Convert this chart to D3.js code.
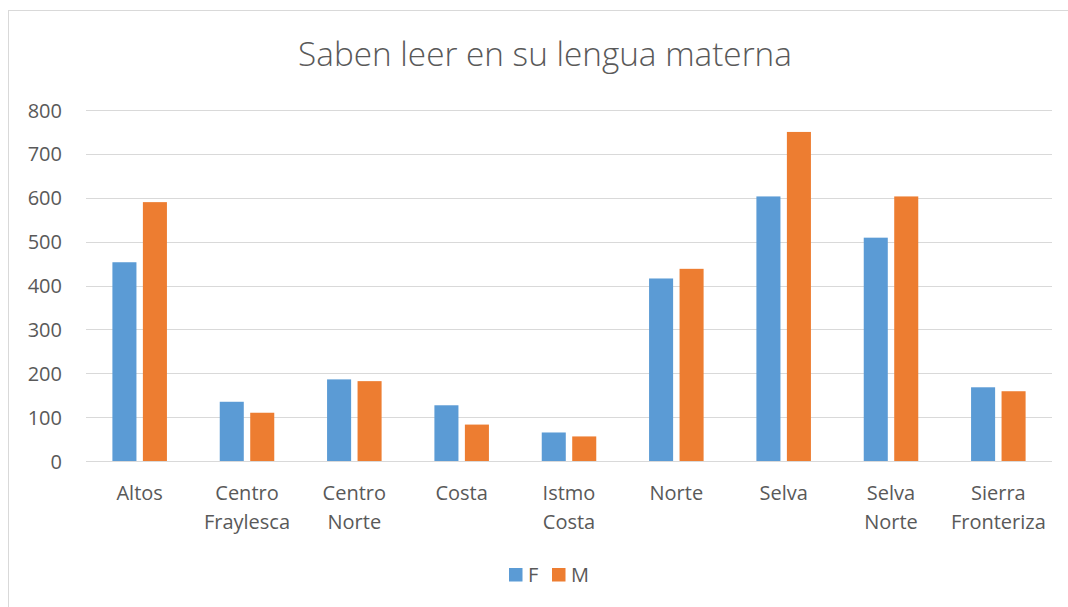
<!DOCTYPE html>
<html><head><meta charset="utf-8">
<script src="https://cdn.jsdelivr.net/npm/d3@7"></script>
<style>
html,body{margin:0;padding:0;background:#fff;}
svg{display:block;}
text{font-family:"Open Sans",sans-serif;fill:#595959;}
</style></head>
<body><svg id="c" width="1068" height="607"></svg>
<script>
const title = "Saben leer en su lengua materna";
const categories = [["Altos"],["Centro","Fraylesca"],["Centro","Norte"],["Costa"],["Istmo","Costa"],["Norte"],["Selva"],["Selva","Norte"],["Sierra","Fronteriza"]];
const seriesNames = ["F","M"];
const valuesF = [453,135,186,127,65,416,603,509,168];
const valuesM = [590,110,182,83,56,438,750,603,159];
const yTicks = [0,100,200,300,400,500,600,700,800];
const colors = ["#5B9BD5","#ED7D31"];

(function(){
const svg = d3.select("#c");
svg.append("rect").attr("x",8.5).attr("y",10.5).attr("width",1080).attr("height",620)
  .attr("fill","#fff").attr("stroke","#D9D9D9").attr("stroke-width",1);

const pL=86,pR=1052,pT=110,pB=461;
const x = d3.scaleBand().domain(categories.map((d,i)=>i)).range([pL,pR]).paddingInner(0).paddingOuter(0);
const y = d3.scaleLinear().domain([0,800]).range([pB,pT]);

svg.append("g").selectAll("line").data(yTicks).join("line")
  .attr("x1",pL).attr("x2",pR)
  .attr("y1",d=>Math.round(y(d))+0.5).attr("y2",d=>Math.round(y(d))+0.5)
  .attr("stroke","#D9D9D9").attr("stroke-width",1);

const yAxis = d3.axisLeft(y).tickValues(yTicks).tickSize(0).tickPadding(0);
const ga = svg.append("g").attr("transform",`translate(62,0)`).call(yAxis);
ga.select(".domain").remove();
ga.selectAll("text").attr("font-size",20).attr("font-family","Open Sans, sans-serif").attr("fill","#595959").attr("dy","0.35em");

const step = x.bandwidth();
const bw = step*0.224, gap = step*0.06;
const groupW = 2*bw+gap;
[valuesF, valuesM].forEach((vals,si)=>{
  svg.append("g").selectAll("rect").data(vals).join("rect")
    .attr("x",(d,i)=>x(i)+step/2-groupW/2+si*(bw+gap))
    .attr("width",bw)
    .attr("y",d=>y(d))
    .attr("height",d=>y(0)-y(d))
    .attr("fill",colors[si]);
});

svg.append("line").attr("x1",pL).attr("x2",pR).attr("y1",Math.round(y(0))+0.5).attr("y2",Math.round(y(0))+0.5)
  .attr("stroke","#D9D9D9").attr("stroke-width",1);

const cl = svg.append("g").selectAll("text").data(categories).join("text")
  .attr("x",(d,i)=>x(i)+step/2).attr("y",500)
  .attr("text-anchor","middle").attr("font-size",20);
cl.each(function(lines){
  const t=d3.select(this);
  lines.forEach((l,k)=>t.append("tspan").attr("x",t.attr("x")).attr("dy",k===0?0:29).text(l));
});

const tt = svg.append("text").attr("x",545).attr("y",66).attr("text-anchor","middle")
  .attr("font-size",32).attr("font-weight",300).text(title);
const w = tt.node().getComputedTextLength();
tt.attr("font-size",32*494/w);

const leg = [{n:seriesNames[0],x:509,c:colors[0]},{n:seriesNames[1],x:552,c:colors[1]}];
leg.forEach(l=>{
  svg.append("rect").attr("x",l.x).attr("y",568).attr("width",13.5).attr("height",13.5).attr("fill",l.c);
  svg.append("text").attr("x",l.x+19).attr("y",582).attr("font-size",20).text(l.n);
});
})();
</script></body></html>
